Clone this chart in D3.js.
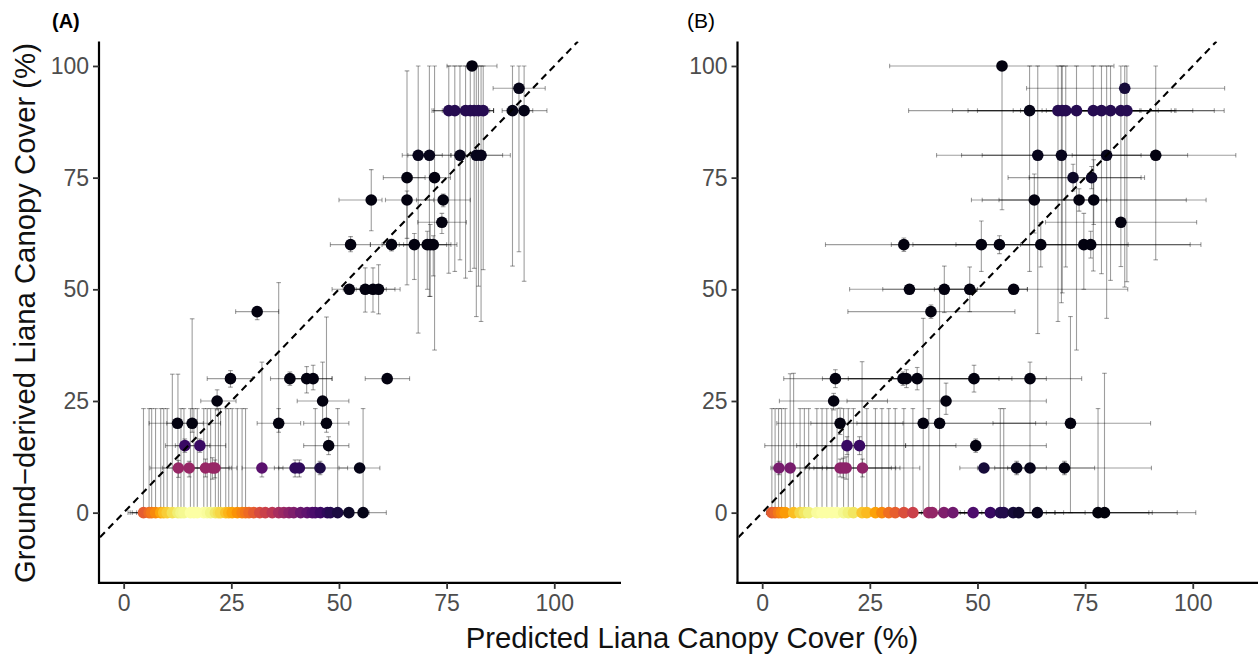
<!DOCTYPE html>
<html><head><meta charset="utf-8">
<script src="https://cdn.jsdelivr.net/npm/d3@7/dist/d3.min.js"></script>
<style>
html,body{margin:0;padding:0;background:#fff;}
svg{display:block;font-family:"Liberation Sans",Arial,sans-serif;}
</style></head>
<body><svg id="chart" width="1258" height="657"></svg>
<script>
// ---- data: [predicted, ground, predLo, predHi, groundLo, groundHi, density] ----
const panelLabels = ["(A)", "(B)"];
const tickValues = [0, 25, 50, 75, 100];
const xTitle = "Predicted Liana Canopy Cover (%)";
const yTitle = "Ground\u2212derived Liana Canopy Cover (%)";

const pointsA = [
 [4.6,0,1.0,9,0,23.3,.63],[5.9,0,1.5,10,0,23.3,.67],[6.5,0,2,11,0,23.3,.70],[7.4,0,3,12,0,23.3,.74],
 [8.6,0,4,13,0,23.3,.80],[9.3,0,5,14,0,23.3,.85],[10.1,0,6,14,0,23.3,.88],[11.3,0,7,16,0,31.0,.92],
 [12.6,0,8,17,0,31.0,.95],[13.3,0,9,18,0,23.3,.97],[14.0,0,9,19,0,23.3,.98],[15.5,0,11,20,0,23.3,1],
 [16.3,0,12,21,0,23.3,1],[17.1,0,12,22,0,23.3,1],[18.6,0,14,23,0,23.3,1],[19.4,0,15,24,0,23.3,.99],
 [20.2,0,15,25,0,23.3,.97],[21.3,0,17,26,0,23.3,.94],[22.0,0,17,27,0,23.3,.92],[22.5,0,18,27,0,23.3,.9],
 [23.7,0,19,28,0,23.3,.86],[24.4,0,20,29,0,23.3,.83],[25.2,0,21,30,0,23.3,.8],[26.4,0,22,31,0,23.3,.76],
 [27.5,0,23,32,0,23.3,.73],[28.3,0,24,33,0,23.3,.7],[29.1,0,25,34,null,null,.67],[30.2,0,26,35,null,null,.63],
 [31.6,0,27,36,null,null,.58],[32.9,0,28,38,null,null,.54],[34.5,0,30,39,null,null,.5],[36.0,0,31,41,0,23.3,.45],
 [37.2,0,33,42,null,null,.42],[38.4,0,34,43,null,null,.38],[39.5,0,35,44,null,null,.35],[41.1,0,36,46,null,null,.3],
 [42.6,0,38,47,null,null,.27],[43.8,0,39,49,null,null,.24],[44.5,0,40,49,0,23.3,.22],[45.7,0,41,51,null,null,.19],
 [47.3,0,42,52,null,null,.16],[48.0,0,43,53,null,null,.14],[49.7,0,45,55,0,23.3,.11],[52.3,0,47,57,null,null,.07],
 [55.6,0,50,61,0,23.3,.04],
 [12.7,10,6.1,19,7.9,11.7,.41],[15.2,10,9,21,8,11.5,.41],[19.0,10,13,24.5,8,12,.41],[20.6,10,15,26.3,7.5,12.3,.41],
 [21.2,10,16,25,7.8,11.8,.41],[32.1,10,27.5,37,8,33.7,.26],[39.8,10,35,45,8,11.8,.16],[40.8,10,36,46,8,11.8,.16],
 [45.6,10,41.5,52,8.5,11.5,.12],[54.8,10,50,59.5,9,11,.04],
 [14.2,15,9.7,20,13.5,16.5,.18],[17.7,15,12,23.7,13.5,16.5,.18],[47.6,15,41.8,52.3,13,17,.03],
 [12.5,20,5.9,18.5,null,null,.03],[15.9,20,10,22.5,18,43.4,.03],[36.0,20,31,41.1,18,51.5,.03],[47.1,20,41.8,52.3,18,43.8,.03],
 [21.7,25,17.9,26.1,23,27.5,.03],[46.2,25,40.3,52.3,20,33.7,.03],
 [24.8,30,19.4,29.9,28.1,31.8,.03],[38.6,30,34.1,43,28.5,31.5,.03],[42.5,30,37.5,48.4,26.8,32.7,.03],
 [44.0,30,39,48.4,27.5,33,.03],[61.2,30,56.1,66.4,null,null,.03],
 [31.0,45,26.0,36.0,43.2,45.9,.03],
 [52.4,50,48.4,57,null,null,.03],[56.1,50,51,61,44.9,54.8,.03],[57.9,50,53,63,44.9,54.8,.03],[59.2,50,54,64.2,44.5,55.5,.03],
 [52.7,60,48,57.3,58.4,61.8,.03],[62.2,60,57.3,67,58.6,61.2,.03],[67.5,60,60,72,52.2,62.5,.03],[70.5,60,62,75,50,63,.03],
 [71.2,60,64,76,48.4,64.5,.03],[71.9,60,65,77.4,53,62,.03],
 [73.9,65,68.3,79.6,62.5,67,.03],
 [57.5,70,50.0,60.0,63.1,76.8,.03],[65.8,70,60.8,72,61.4,72,.03],[74.2,70,68,80.5,68.5,71.3,.03],
 [65.8,75,60.3,70,51.0,98.9,.03],[72.2,75,67,75.9,36.4,100,.03],
 [68.4,80,64.7,74,40.2,100,.05],[71.0,80,66,76,48.4,100,.05],[78.1,80,72,84,56.6,100,.05],
 [81.9,80,76,88,43.9,100,.05],[83.0,80,78,89.8,42.8,100,.05],
 [75.5,90,71.6,80,53.6,100,.14],[76.9,90,72,81,54,100,.14],[79.4,90,74,84,52.5,100,.14],[80.5,90,75,85,54,100,.14],
 [81.4,90,76,85.9,54.7,100,.14],[82.4,90,77,85.9,50.7,100,.14],[83.5,90,78,85.9,54.4,100,.14],
 [90.3,90,87.9,95,55.2,100,.04],[93.0,90,89,98.3,51.8,100,.04],
 [91.8,95,85.8,97.9,58.4,100,.04],
 [80.9,100,75.1,86.7,null,null,.03]
];

const pointsB = [
 [2.25,0,1,8,0,23.3,.63],[3.0,0,1,9,0,23.3,.66],[3.8,0,1.5,10,0,23.3,.70],[4.5,0,2,11,0,23.3,.74],
 [5.35,0,2,12,0,23.3,.78],[7.3,0,3,13,0,31.2,.85],[8.8,0,4,15,0,23.3,.9],[9.8,0,5,16,0,23.3,.93],
 [10.8,0,5,17,0,23.3,.96],[12.7,0,7,19,0,23.3,.99],[13.9,0,8,20,0,23.3,1],[15.0,0,9,21,0,23.3,1],
 [16.2,0,10,22,0,23.3,1],[17.4,0,11,24,0,23.3,1],[18.9,0,12,25,0,23.3,.98],[20.0,0,13,27,0,23.3,.96],
 [21.2,0,14,28,0,23.3,.93],[23.2,0,16,30,0,33.8,.87],[24.3,0,17,31,0,23.3,.84],[26.3,0,18,33,0,23.3,.79],
 [27.8,0,20,35,0,23.3,.74],[29.4,0,22,37,0,23.3,.68],[30.9,0,23,39,0,23.3,.64],[32.9,0,25,41,0,23.3,.59],
 [35.0,0,27,43,0,23.3,.54],[38.7,0,30,47,0,23.3,.42],[39.5,0,31,48,null,null,.40],[42.2,0,33,51,null,null,.35],
 [44.3,0,35,53,null,null,.31],[49.0,0,38,60,null,null,.23],[53.0,0,42,64,null,null,.18],[55.3,0,44,68,0,23.3,.14],
 [56.1,0,45,70,0,23.3,.13],[58.3,0,46,75,null,null,.1],[59.6,0,45,90.6,null,null,.08],[63.9,0,50,89.8,null,null,.05],
 [78.0,0,66,96.4,0,23.3,.02],[79.5,0,68,100.7,0,31.2,.02],
 [3.9,10,2,14,8.5,11.5,.33],[6.5,10,2.5,18,0,31.1,.33],[18.1,10,10,30,8,12,.38],[18.8,10,11,31,7.8,12.2,.38],
 [19.5,10,12,32,7.5,12.5,.38],[23.3,10,15,36.6,8,12,.39],[51.5,10,45.9,58,null,null,.1],[59.1,10,50,66.0,8.5,11.5,.05],
 [62.2,10,54,77.2,null,null,.05],[70.2,10,57,90.4,8.5,11.5,.03],
 [19.7,15,0.6,33.3,13,17,.18],[22.6,15,8,45.0,13,17,.18],[49.6,15,33.3,66.0,13.5,16.5,.03],
 [18.1,20,3.4,32.7,17.5,23.4,.03],[37.4,20,11.3,63.5,0,43.5,.03],[41.2,20,22,66.0,0,50.2,.03],[71.6,20,53.6,90.2,0,43.9,.03],
 [16.6,25,4.0,29.1,23,26.7,.03],[42.7,25,19.7,66.0,22,29,.03],
 [17.0,30,5.0,30,28,32,.03],[32.7,30,14,50,28.5,31.5,.03],[33.5,30,18,55,28,32,.03],[36.0,30,20,58,27.5,32.5,.03],
 [49.2,30,30,66,27,33,.03],[62.2,30,48,74.2,0,33.7,.03],
 [39.2,45,19.9,58.7,43.5,46.5,.03],
 [34.2,50,20.3,50,null,null,.03],[42.3,50,28,61.6,44.8,55.2,.03],[48.2,50,35,61.6,45,55,.03],[58.4,50,40,84.9,null,null,.03],
 [32.9,60,14.7,50,58.5,61.5,.03],[50.9,60,30,65,54,65.3,.03],[55.1,60,35,75,58,62,.03],[64.7,60,45,85,55,64.9,.03],
 [74.7,60,55,99.4,50,67,.03],[76.3,60,60,101.9,57,63,.03],
 [83.3,65,65.8,100.9,null,null,.03],
 [63.2,70,48.6,80,62.6,75.8,.03],[73.6,70,51.1,98.5,67.5,72.5,.03],[77.0,70,55,103.1,64.5,79,.03],
 [72.2,75,57.1,88,72,78,.07],[76.5,75,62,88.8,72.5,77.5,.07],
 [64.0,80,40.5,88,40.1,100,.05],[69.5,80,46.3,92,47,100,.05],[80.0,80,51.1,98.8,43.5,100,.05],[91.4,80,72,110,56.6,100,.03],
 [62.1,90,34.0,87.7,54,100,.04],[68.7,90,44.2,92,42.8,100,.14],[69.7,90,47.8,95.8,49.2,100,.14],[70.5,90,50,90,55,100,.14],
 [73.0,90,58.3,88,36.4,100,.14],[76.9,90,60,95,54.1,100,.14],[78.8,90,62,96.1,53.5,100,.14],[80.9,90,65,100,52,100,.14],
 [83.3,90,66,105,55.1,100,.14],[84.7,90,68,107.3,51.7,100,.14],
 [84.2,95,61.4,107.4,50.5,100,.1],
 [55.7,100,29.6,81.7,67.8,100,.03]
];

// ---- layout ----
const svg = d3.select("#chart");
const xDomain = [-5.5, 115.5], yDomain = [-15.5, 105.5];
const panels = [
  {data: pointsA, left: 100, right: 621, label: panelLabels[0], lx: 52, bold: true},
  {data: pointsB, left: 738.5, right: 1259.5, label: panelLabels[1], lx: 687, bold: false}
];
const plotTop = 41.4, plotBottom = 581.9;
const y = d3.scaleLinear().domain(yDomain).range([plotBottom, plotTop]);
const cap = 2.3;
const barColor = "rgba(0,0,0,0.38)";

panels.forEach((p, i) => {
  const x = d3.scaleLinear().domain(xDomain).range([p.left, p.right]);
  const g = svg.append("g");
  const clipId = "clip" + i;
  svg.append("clipPath").attr("id", clipId).append("rect")
    .attr("x", p.left).attr("y", plotTop).attr("width", p.right - p.left).attr("height", plotBottom - plotTop);
  const pg = g.append("g").attr("clip-path", `url(#${clipId})`);

  // vertical error bars
  const vb = p.data.filter(d => d[4] !== null && d[4] !== d[5]);
  const vg = pg.append("g").attr("stroke", barColor).attr("stroke-width", 1.1).attr("fill", "none");
  vb.forEach(d => {
    const xx = x(d[0]);
    vg.append("line").attr("x1", xx).attr("x2", xx).attr("y1", y(d[4])).attr("y2", y(d[5]));
    vg.append("line").attr("x1", xx - cap).attr("x2", xx + cap).attr("y1", y(d[4])).attr("y2", y(d[4]));
    vg.append("line").attr("x1", xx - cap).attr("x2", xx + cap).attr("y1", y(d[5])).attr("y2", y(d[5]));
  });
  // horizontal error bars
  const hg = pg.append("g").attr("stroke", barColor).attr("stroke-width", 1.1).attr("fill", "none");
  p.data.filter(d => d[2] !== null).forEach(d => {
    const yy = y(d[1]);
    hg.append("line").attr("x1", x(d[2])).attr("x2", x(d[3])).attr("y1", yy).attr("y2", yy);
    hg.append("line").attr("x1", x(d[2])).attr("x2", x(d[2])).attr("y1", yy - cap).attr("y2", yy + cap);
    hg.append("line").attr("x1", x(d[3])).attr("x2", x(d[3])).attr("y1", yy - cap).attr("y2", yy + cap);
  });
  // points
  pg.append("g").selectAll("circle").data(p.data).join("circle")
    .attr("cx", d => x(d[0])).attr("cy", d => y(d[1])).attr("r", 5.8)
    .attr("fill", d => d3.interpolateInferno(d[6]));
  // 1:1 line
  pg.append("line")
    .attr("x1", x(-5.5)).attr("y1", y(-5.5)).attr("x2", x(105.5)).attr("y2", y(105.5))
    .attr("stroke", "#000").attr("stroke-width", 2.1).attr("stroke-dasharray", "7,5");

  // axes
  const ax = g.append("g").attr("transform", `translate(0,${plotBottom + 1})`)
    .call(d3.axisBottom(x).tickValues(tickValues).tickSize(6).tickPadding(6));
  const ay = g.append("g").attr("transform", `translate(${p.left - 1},0)`)
    .call(d3.axisLeft(y).tickValues(tickValues).tickSize(6).tickPadding(4));
  [ax, ay].forEach(a => {
    a.select(".domain").attr("stroke", "#000").attr("stroke-width", 2.2);
    a.selectAll(".tick line").attr("stroke", "#333").attr("stroke-width", 1.8);
    a.selectAll(".tick text").attr("fill", "#4d4d4d").style("font-size", "23px")
      .style("font-family", '"Liberation Sans",Arial,sans-serif');
  });
  ax.select(".domain").attr("d", `M${p.left - 2},0H${p.right}`);
  ay.select(".domain").attr("d", `M0,${plotTop}V${plotBottom + 2}`);

  // panel label
  svg.append("text").attr("x", p.lx).attr("y", 28).text(p.label)
    .style("font-size", p.bold ? "20px" : "21px").style("font-weight", p.bold ? "bold" : "normal")
    .attr("fill", "#000");
});

// axis titles
svg.append("text").attr("x", 692).attr("y", 648).attr("text-anchor", "middle")
  .style("font-size", "29.3px").attr("fill", "#111").text(xTitle);
svg.append("text").attr("transform", "translate(35,313) rotate(-90)").attr("text-anchor", "middle")
  .style("font-size", "29.3px").attr("fill", "#111").text(yTitle);
</script>
</body></html>
